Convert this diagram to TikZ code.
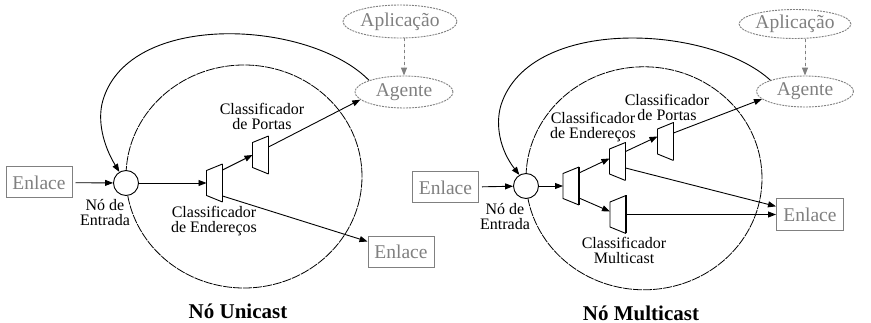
\documentclass[tikz,border=0pt]{standalone}
\usepackage{fontspec}
\setmainfont{Liberation Serif}
\usetikzlibrary{arrows.meta,shapes.geometric,calc}
\definecolor{gr}{RGB}{128,128,128}
\newcommand\clsbox[3]{%
 \begin{scope}[shift={(#2,#3)}]
 \coordinate (#1-l) at (0,0);
 \coordinate (#1-r) at (16,0);
 \draw[line width=0.9pt] (16,-19) -- (0,-12.5) -- (0,12.5) -- (16,19);
 \draw[line width=1.7pt] (16,-19) -- (16,19);
 \end{scope}}
\begin{document}
\begin{tikzpicture}[x=1pt,y=-1pt,
 arr/.style={-{Triangle[length=8pt,width=6pt]},line width=0.9pt},
 lbl/.style={font=\fontsize{16}{15}\selectfont,align=center,inner sep=0pt},
 ttl/.style={font=\fontsize{21}{24}\selectfont\bfseries,inner sep=0pt},
 enl/.style={draw=gr,text=gr,line width=1pt,minimum width=66pt,minimum height=31pt,inner sep=0pt,font=\fontsize{19.5}{20}\selectfont},
 ell/.style={ellipse,draw=gr,text=gr,dash pattern=on 2pt off 1pt,line width=0.9pt,inner sep=0pt,font=\fontsize{19.5}{20}\selectfont},
 big/.style={ellipse,draw,dash pattern=on 9pt off 1pt,line width=0.8pt,minimum width=236pt,minimum height=223pt,inner sep=0pt},
 entry/.style={circle,draw,fill=white,line width=0.9pt,minimum size=25pt,inner sep=0pt},
 gdash/.style={-{Triangle[length=8pt,width=6pt]},draw=gr,fill=gr,dashed,line width=1pt}]
\useasboundingbox[fill=white] (0,0) rectangle (871,323);

% ---------- Left: No Unicast ----------
\node[big] (bigL) at (244,176.5) {};
\node[enl] (enL1) at (39,182.5) {Enlace};
\node[entry] (inL) at (126,183) {};
\node[ell,minimum width=114pt,minimum height=33pt] (apL) at (400,21.5) {Aplicação};
\node[ell,minimum width=98pt,minimum height=32pt] (agL) at (404,92) {Agente};
\node[enl] (enL2) at (401,252) {Enlace};
\clsbox{t1}{206.5}{183}
\clsbox{t2}{252.5}{155}
\node[lbl] (lNoL) at (105,213) {Nó de\\Entrada};
\node[lbl] (lPoL) at (262,116) {Classificador\\de Portas};
\node[lbl] (lEnL) at (214,221) {Classificador\\de Endereços};
\node[ttl] (tiL) at (238,311) {Nó Unicast};

\draw[arr,shorten <=3pt] (enL1) -- (inL);
\draw[arr] (inL) -- (t1-l);
\draw[arr] ($(t1-r)+(0,-13)$) -- (t2-l);
\draw[arr] ($(t2-r)+(0,-8)$) -- (agL.190);
\draw[arr] ($(t1-r)+(0,13)$) -- (enL2);
\draw[gdash] (apL.south -| agL.north) -- (agL.north);
\draw[arr] (agL.north west) .. controls (310,20) and (130,10) .. (103,100)
  .. controls (97,120) and (103,145) .. (inL.121);

% ---------- Right: No Multicast ----------
\node[big] (bigR) at (644,178.3) {};
\node[enl] (enR1) at (445.5,187.5) {Enlace};
\node[entry] (inR) at (526,186) {};
\node[ell,minimum width=110pt,minimum height=29pt] (apR) at (795,24) {Aplicação};
\node[ell,minimum width=97pt,minimum height=31pt] (agR) at (805,91.5) {Agente};
\node[enl,minimum width=67pt,minimum height=32pt] (enR2) at (810,215) {Enlace};
\clsbox{tA}{563}{186}
\clsbox{tB}{609.5}{161.5}
\clsbox{tC}{610}{214.5}
\clsbox{tD}{657.5}{141.5}
\node[lbl] (lNoR) at (505,217) {Nó de\\Entrada};
\node[lbl] (lPoR) at (667,107) {Classificador\\de Portas};
\node[lbl] (lEnR) at (593,127) {Classificador\\de Endereços};
\node[lbl] (lMuR) at (624,250) {Classificador\\Multicast};
\node[ttl] (tiR) at (641,313) {Nó Multicast};

\draw[arr,shorten <=3pt] (enR1) -- (inR);
\draw[arr] (inR) -- (tA-l);
\draw[arr] ($(tA-r)+(0,-13)$) -- ($(tB-l)+(0,-3)$);
\draw[arr] ($(tA-r)+(0,12)$) -- ($(tC-l)+(0,-3)$);
\draw[arr] ($(tB-r)+(0,-10)$) -- ($(tD-l)+(0,-5)$);
\draw[arr] ($(tD-r)+(0,-8.5)$) -- (agR.190);
\draw[arr] ($(tB-r)+(0,6.5)$) -- (enR2);
\draw[arr] (tC-r) -- (tC-r -| enR2.west);
\draw[gdash] (apR.south -| agR.north) -- (agR.north);
\draw[arr] (agR.north west) .. controls (710,25) and (530,15) .. (501,105)
  .. controls (495,125) and (500,150) .. (inR.121);
\end{tikzpicture}
\end{document}
